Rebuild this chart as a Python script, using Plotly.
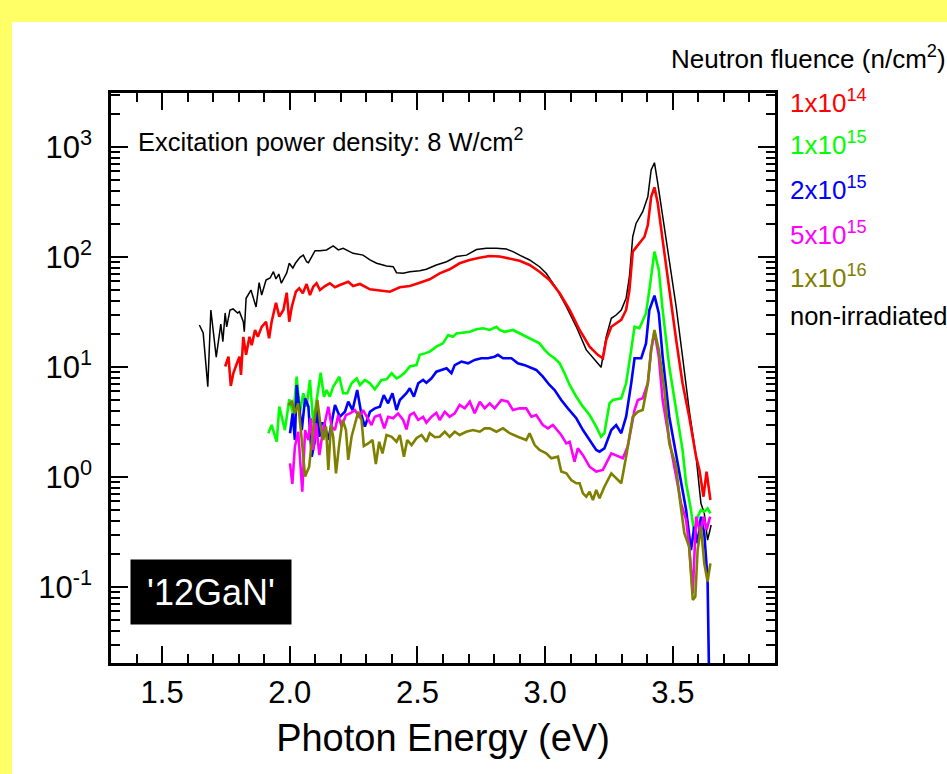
import plotly.graph_objects as go

# Photoluminescence spectra of GaN after neutron irradiation
# photon energy (eV) and PL intensity (arb. units) for each fluence

e_non = [1.646, 1.661, 1.679, 1.691, 1.712, 1.730, 1.738, 1.747, 1.753, 1.766, 1.778, 1.796,
         1.803, 1.818, 1.822, 1.829, 1.848, 1.855, 1.868, 1.880, 1.890, 1.907, 1.923, 1.936,
         1.946, 1.957, 1.967, 1.988, 1.998, 2.012, 2.022, 2.040, 2.053, 2.066, 2.073, 2.099,
         2.118, 2.144, 2.170, 2.190, 2.209, 2.248, 2.287, 2.314, 2.340, 2.379, 2.405, 2.418,
         2.444, 2.470, 2.509, 2.535, 2.574, 2.614, 2.653, 2.692, 2.731, 2.770, 2.809, 2.848,
         2.874, 2.900, 2.939, 2.978, 3.004, 3.044, 3.083, 3.122, 3.161, 3.200, 3.219, 3.239,
         3.259, 3.278, 3.298, 3.317, 3.330, 3.343, 3.356, 3.382, 3.402, 3.415, 3.428, 3.441,
         3.460, 3.486, 3.513, 3.538, 3.564, 3.591, 3.610, 3.623, 3.636, 3.650]
i_non = [24.1, 20.4, 6.62, 33.0, 12.3, 24.6, 17.0, 31.0, 23.2, 33.0, 33.7, 31.0,
         31.8, 25.8, 20.9, 42.1, 50.1, 43.6, 35.1, 58.4, 45.1, 61.8, 64.4, 73.5,
         63.1, 70.0, 57.7, 71.6, 87.7, 79.4, 87.7, 99.4, 104, 90.6, 88.8, 114,
         114, 116, 126, 116, 120, 108, 104, 94.0, 87.7, 82.8, 81.6, 72.0,
         71.1, 73.5, 75.0, 77.3, 84.6, 90.6, 101, 104, 117, 120, 120, 118,
         112, 104, 94.0, 81.6, 71.1, 51.9, 35.3, 23.2, 14.3, 11.2, 9.94, 18.8,
         27.7, 29.7, 33.0, 42.1, 66.2, 153, 202, 258, 353, 618, 720, 468,
         232, 94.0, 35.3, 12.4, 4.06, 1.53, 0.577, 0.468, 0.267, 0.366]

e_1e14 = [1.747, 1.760, 1.769, 1.779, 1.793, 1.803, 1.809, 1.818, 1.829, 1.842, 1.851, 1.864,
          1.875, 1.890, 1.907, 1.919, 1.929, 1.946, 1.959, 1.975, 1.988, 1.998, 2.008, 2.024,
          2.037, 2.051, 2.066, 2.079, 2.092, 2.105, 2.118, 2.138, 2.157, 2.177, 2.196, 2.229,
          2.248, 2.275, 2.314, 2.353, 2.392, 2.431, 2.470, 2.509, 2.548, 2.587, 2.626, 2.665,
          2.704, 2.743, 2.782, 2.822, 2.861, 2.900, 2.939, 2.978, 3.017, 3.057, 3.096, 3.135,
          3.174, 3.206, 3.226, 3.239, 3.259, 3.278, 3.298, 3.317, 3.330, 3.343, 3.363, 3.389,
          3.402, 3.415, 3.428, 3.441, 3.460, 3.486, 3.513, 3.538, 3.564, 3.591, 3.604, 3.620,
          3.632, 3.647]
i_1e14 = [10.1, 12.4, 6.72, 8.77, 10.8, 12.4, 8.46, 18.8, 12.9, 18.8, 15.8, 21.7,
          18.8, 23.2, 25.8, 18.2, 25.8, 38.4, 28.7, 33.0, 47.4, 25.8, 35.3, 48.4,
          51.9, 46.8, 56.8, 45.1, 53.7, 57.7, 50.1, 54.5, 57.7, 53.1, 55.6, 59.6,
          54.5, 56.8, 50.8, 49.4, 48.4, 53.1, 54.5, 58.4, 62.7, 71.1, 77.3, 87.7,
          94.0, 98.6, 102, 101, 97.3, 92.5, 84.6, 73.5, 61.8, 46.8, 33.0, 21.7,
          15.3, 12.9, 12.0, 17.6, 23.2, 25.0, 26.8, 33.0, 50.1, 112, 129, 153,
          195, 353, 430, 308, 143, 50.1, 17.6, 7.11, 3.53, 1.53, 1.16, 0.662,
          1.12, 0.618]

e_1e15 = [1.916, 1.929, 1.949, 1.959, 1.981, 1.998, 2.014, 2.027, 2.040, 2.053, 2.066, 2.079,
          2.092, 2.108, 2.121, 2.134, 2.144, 2.157, 2.170, 2.194, 2.209, 2.225, 2.242, 2.262,
          2.275, 2.294, 2.314, 2.333, 2.359, 2.379, 2.399, 2.418, 2.431, 2.450, 2.470, 2.496,
          2.509, 2.529, 2.548, 2.574, 2.600, 2.620, 2.639, 2.653, 2.678, 2.705, 2.731, 2.757,
          2.783, 2.809, 2.822, 2.841, 2.874, 2.900, 2.926, 2.952, 2.978, 2.998, 3.017, 3.037,
          3.057, 3.076, 3.096, 3.122, 3.148, 3.174, 3.200, 3.219, 3.232, 3.252, 3.265, 3.298,
          3.317, 3.337, 3.350, 3.369, 3.395, 3.408, 3.428, 3.445, 3.460, 3.486, 3.513, 3.538,
          3.552, 3.571, 3.584, 3.597, 3.610, 3.623, 3.636, 3.647]
i_1e15 = [2.50, 2.97, 2.09, 4.36, 2.67, 5.09, 3.66, 8.16, 3.92, 5.77, 4.36, 7.62,
          3.08, 5.37, 8.87, 5.37, 6.18, 5.37, 6.62, 8.16, 5.77, 5.77, 7.11, 7.89,
          6.86, 7.62, 7.11, 6.27, 7.62, 7.73, 8.77, 7.89, 8.16, 8.87, 10.1, 10.4,
          12.9, 13.3, 13.8, 15.3, 16.4, 19.5, 18.8, 20.2, 20.5, 20.9, 22.0, 22.5,
          21.7, 23.2, 21.7, 20.9, 21.7, 20.2, 18.8, 17.6, 16.4, 14.3, 12.9, 12.0,
          10.8, 8.77, 6.86, 5.37, 4.36, 3.66, 2.87, 2.32, 2.50, 4.68, 5.01, 5.19,
          7.11, 14.3, 23.2, 22.5, 30.8, 50.1, 112, 76.2, 33.0, 10.1, 4.06, 1.76,
          0.877, 0.501, 0.308, 0.436, 0.501, 0.484, 0.519, 0.468]

e_2e15 = [2.001, 2.011, 2.020, 2.027, 2.037, 2.047, 2.060, 2.073, 2.086, 2.099, 2.105, 2.116,
          2.125, 2.135, 2.151, 2.164, 2.177, 2.196, 2.216, 2.229, 2.246, 2.264, 2.281, 2.294,
          2.314, 2.333, 2.353, 2.368, 2.385, 2.402, 2.418, 2.431, 2.457, 2.470, 2.486, 2.503,
          2.522, 2.535, 2.555, 2.574, 2.614, 2.633, 2.646, 2.672, 2.698, 2.724, 2.750, 2.776,
          2.802, 2.815, 2.835, 2.868, 2.893, 2.920, 2.946, 2.965, 2.991, 3.017, 3.037, 3.063,
          3.089, 3.122, 3.148, 3.174, 3.200, 3.213, 3.232, 3.259, 3.278, 3.298, 3.317, 3.337,
          3.350, 3.376, 3.395, 3.408, 3.428, 3.445, 3.460, 3.486, 3.513, 3.538, 3.552, 3.571,
          3.584, 3.597, 3.610, 3.623, 3.636, 3.643]
i_2e15 = [2.50, 3.79, 2.17, 6.86, 4.36, 2.67, 5.19, 4.36, 1.53, 2.17, 4.36, 2.32,
          3.08, 3.08, 2.17, 3.08, 4.52, 3.53, 3.92, 4.84, 4.06, 6.18, 3.66, 2.87,
          3.92, 4.21, 4.36, 5.56, 4.68, 5.77, 4.06, 5.01, 5.77, 6.40, 5.37, 7.11,
          7.62, 7.20, 7.89, 9.06, 9.73, 8.77, 10.4, 11.2, 10.8, 11.6, 12.0, 12.0,
          12.4, 12.9, 12.0, 12.0, 10.8, 10.4, 9.73, 9.40, 8.16, 6.86, 6.18, 5.01,
          4.21, 3.42, 2.67, 2.17, 1.76, 1.70, 1.82, 2.67, 2.97, 2.50, 3.53, 7.11,
          12.0, 12.0, 16.4, 33.0, 44.5, 30.8, 12.4, 3.53, 1.53, 0.711, 0.501, 0.217,
          0.353, 0.250, 0.436, 0.308, 0.116, 0.010]

e_5e15 = [2.001, 2.010, 2.020, 2.033, 2.049, 2.060, 2.073, 2.082, 2.092, 2.103, 2.116, 2.129,
          2.141, 2.151, 2.164, 2.177, 2.190, 2.203, 2.220, 2.236, 2.255, 2.272, 2.287, 2.301,
          2.320, 2.333, 2.353, 2.370, 2.385, 2.405, 2.424, 2.444, 2.457, 2.470, 2.486, 2.503,
          2.522, 2.535, 2.555, 2.574, 2.587, 2.607, 2.626, 2.646, 2.665, 2.685, 2.705, 2.724,
          2.744, 2.763, 2.783, 2.802, 2.829, 2.854, 2.874, 2.900, 2.926, 2.946, 2.965, 2.991,
          3.011, 3.030, 3.050, 3.063, 3.083, 3.096, 3.115, 3.128, 3.148, 3.174, 3.200, 3.226,
          3.259, 3.278, 3.304, 3.323, 3.350, 3.363, 3.382, 3.402, 3.415, 3.428, 3.445, 3.460,
          3.486, 3.513, 3.532, 3.552, 3.565, 3.578, 3.591, 3.607, 3.620, 3.632, 3.646]
i_5e15 = [1.33, 0.864, 1.88, 2.58, 0.735, 2.67, 2.17, 3.42, 1.76, 3.08, 1.58, 2.58,
          3.42, 4.36, 2.87, 2.67, 3.66, 2.87, 3.66, 3.79, 4.06, 3.53, 4.06, 3.53,
          2.97, 3.53, 3.66, 2.77, 3.53, 3.42, 3.79, 3.30, 2.71, 3.66, 3.84, 3.30,
          3.53, 3.12, 3.53, 3.84, 3.30, 3.92, 3.53, 3.79, 4.52, 4.21, 4.84, 3.79,
          4.84, 4.21, 4.68, 4.21, 5.01, 4.84, 4.06, 4.21, 4.21, 3.53, 3.66, 2.97,
          2.77, 2.97, 2.58, 2.41, 2.02, 2.09, 1.38, 1.82, 1.58, 1.24, 1.12, 1.16,
          1.64, 1.58, 1.48, 1.88, 4.06, 5.01, 5.19, 7.11, 14.3, 20.9, 12.4, 5.01,
          2.17, 1.01, 0.577, 0.407, 0.217, 0.0877, 0.436, 0.308, 0.436, 0.330, 0.436]

e_1e16 = [1.994, 2.008, 2.020, 2.033, 2.047, 2.060, 2.076, 2.090, 2.108, 2.121, 2.131, 2.142,
          2.151, 2.161, 2.170, 2.181, 2.194, 2.207, 2.220, 2.229, 2.242, 2.255, 2.268, 2.281,
          2.290, 2.307, 2.324, 2.337, 2.350, 2.363, 2.379, 2.399, 2.418, 2.431, 2.447, 2.460,
          2.477, 2.496, 2.516, 2.535, 2.548, 2.568, 2.587, 2.607, 2.626, 2.646, 2.665, 2.691,
          2.717, 2.744, 2.763, 2.783, 2.809, 2.835, 2.861, 2.893, 2.926, 2.939, 2.959, 2.978,
          3.004, 3.024, 3.050, 3.063, 3.083, 3.102, 3.122, 3.135, 3.148, 3.161, 3.174, 3.187,
          3.200, 3.213, 3.232, 3.259, 3.284, 3.298, 3.317, 3.343, 3.363, 3.382, 3.402, 3.415,
          3.428, 3.445, 3.467, 3.486, 3.513, 3.526, 3.545, 3.564, 3.578, 3.588, 3.597, 3.610,
          3.623, 3.636, 3.647]
i_1e16 = [4.52, 4.84, 3.79, 4.68, 2.17, 1.01, 1.24, 2.58, 5.01, 2.87, 2.17, 2.87,
          1.16, 2.97, 2.32, 1.08, 2.02, 3.30, 2.67, 1.43, 2.32, 3.08, 3.92, 3.30,
          1.91, 2.02, 2.17, 1.31, 2.09, 1.64, 2.41, 2.32, 2.09, 2.41, 1.53, 2.17,
          1.95, 2.25, 2.41, 2.09, 2.50, 2.30, 2.32, 2.58, 2.32, 2.58, 2.41, 2.58,
          2.67, 2.58, 2.77, 2.77, 2.58, 2.77, 2.50, 2.32, 2.17, 2.50, 1.95, 1.76,
          1.64, 1.48, 1.53, 1.12, 1.08, 0.939, 0.877, 0.877, 0.711, 0.662, 0.735, 0.618,
          0.762, 0.640, 0.816, 1.08, 0.939, 0.877, 1.53, 3.53, 3.92, 4.06, 7.11, 14.3,
          21.7, 14.3, 6.18, 2.02, 1.24, 0.662, 0.308, 0.232, 0.0762, 0.0816, 0.217, 0.353,
          0.164, 0.112, 0.164]

# decade ticks on the intensity axis
y_tick_vals = [0.1, 1, 10, 100, 1000]
y_tick_text = ["10<sup>-1</sup>", "10<sup>0</sup>", "10<sup>1</sup>", "10<sup>2</sup>", "10<sup>3</sup>"]

series = [
    ("non-irradiated", e_non, i_non, "#000000", 1.5),
    ("1x10<sup>14</sup>", e_1e14, i_1e14, "#ff0000", 2.6),
    ("1x10<sup>15</sup>", e_1e15, i_1e15, "#00ff00", 2.6),
    ("2x10<sup>15</sup>", e_2e15, i_2e15, "#0000ff", 2.6),
    ("5x10<sup>15</sup>", e_5e15, i_5e15, "#ff00ff", 2.6),
    ("1x10<sup>16</sup>", e_1e16, i_1e16, "#808000", 2.6),
]

# legend entries listed top to bottom, right of the frame
legend_order = ["1x10<sup>14</sup>", "1x10<sup>15</sup>", "2x10<sup>15</sup>",
                "5x10<sup>15</sup>", "1x10<sup>16</sup>", "non-irradiated"]
legend_colors = ["#ff0000", "#00ff00", "#0000ff", "#ff00ff", "#808000", "#000000"]

FONT = "Liberation Sans, Arial, sans-serif"
W, H = 947, 774
ML, MR, MT, MB = 111, 172, 93, 111
PW, PH = W - ML - MR, H - MT - MB

fig = go.Figure()
for name, e, inten, color, lw in series:
    fig.add_trace(go.Scatter(x=e, y=inten, mode="lines", name=name,
                             line=dict(color=color, width=lw), showlegend=False))

axis_common = dict(showline=True, linecolor="black", linewidth=2.5, mirror="allticks",
                   ticks="inside", ticklen=17, tickwidth=2, tickcolor="black",
                   showgrid=False, zeroline=False)

fig.update_xaxes(range=[1.3, 3.9], tick0=1.5, dtick=0.5, tickformat=".1f",
                 tickfont=dict(family=FONT, size=31, color="black"),
                 minor=dict(dtick=0.1, ticks="inside", ticklen=9, tickwidth=2,
                            tickcolor="black", showgrid=False),
                 title=dict(text="Photon Energy (eV)", standoff=16,
                            font=dict(family=FONT, size=38, color="black")),
                 **axis_common)
fig.update_yaxes(type="log", range=[-1.691, 3.491],
                 tickmode="array", tickvals=y_tick_vals, ticktext=y_tick_text,
                 tickfont=dict(family=FONT, size=31, color="black"),
                 minor=dict(dtick="D1", ticks="inside", ticklen=9, tickwidth=2,
                            tickcolor="black", showgrid=False),
                 ticklabelstandoff=10,
                 **axis_common)

def px_x(px):
    return (px - ML) / PW

def px_y(py):
    return (H - MB - py) / PH

ann = []
ann.append(dict(text="Excitation power density: 8 W/cm<sup>2</sup>", x=px_x(136), y=px_y(140),
                xref="paper", yref="paper", xanchor="left", yanchor="middle", showarrow=False,
                font=dict(family=FONT, size=25.5, color="black")))
ann.append(dict(text="Neutron fluence (n/cm<sup>2</sup>)", x=px_x(669), y=px_y(57),
                xref="paper", yref="paper", xanchor="left", yanchor="middle", showarrow=False,
                font=dict(family=FONT, size=26, color="black")))
item_y = [101, 143, 188, 233, 276, 316]
for label, color, yy in zip(legend_order, legend_colors, item_y):
    ann.append(dict(text=label, x=px_x(788), y=px_y(yy), xref="paper", yref="paper",
                    xanchor="left", yanchor="middle", showarrow=False,
                    font=dict(family=FONT, size=26 if label != "non-irradiated" else 25.5,
                              color=color)))
ann.append(dict(text="'12GaN'", x=px_x(211), y=px_y(592), xref="paper", yref="paper",
                xanchor="center", yanchor="middle", showarrow=False,
                width=158, height=62, bgcolor="black",
                font=dict(family=FONT, size=36, color="white")))

fig.update_layout(
    width=W, height=H,
    margin=dict(l=ML, r=MR, t=MT, b=MB, pad=0),
    paper_bgcolor="#ffff66",
    plot_bgcolor="white",
    annotations=ann,
    shapes=[dict(type="rect", xref="paper", yref="paper", layer="below",
                 x0=px_x(12), x1=px_x(W + 5), y0=px_y(H + 5), y1=px_y(22),
                 fillcolor="white", line=dict(width=0))],
)

fig.write_html("out.html")
